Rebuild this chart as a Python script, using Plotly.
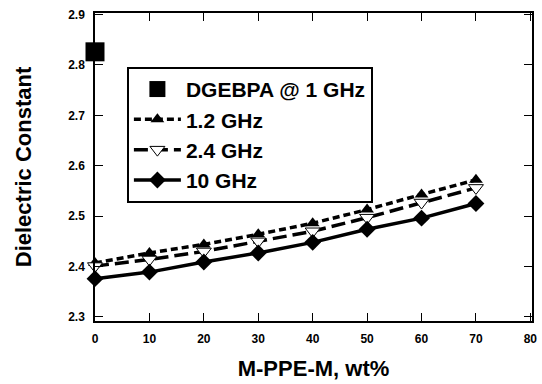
import plotly.graph_objects as go

wt = [0, 10, 20, 30, 40, 50, 60, 70]
dgebpa_x = [0]
dgebpa_y = [2.826]
ghz_1_2 = [2.407, 2.427, 2.444, 2.464, 2.486, 2.513, 2.543, 2.572]
ghz_2_4 = [2.401, 2.414, 2.430, 2.450, 2.470, 2.497, 2.527, 2.556]
ghz_10 = [2.376, 2.389, 2.409, 2.427, 2.448, 2.474, 2.496, 2.525]

x_ticks = [0, 10, 20, 30, 40, 50, 60, 70, 80]
y_ticks = [2.3, 2.4, 2.5, 2.6, 2.7, 2.8, 2.9]

FONT = "Liberation Sans, Arial, sans-serif"

fig = go.Figure()
fig.add_trace(go.Scatter(x=dgebpa_x, y=dgebpa_y, mode="markers", name="DGEBPA @ 1 GHz",
                         marker=dict(symbol="square", size=19, color="black"), cliponaxis=False))
fig.add_trace(go.Scatter(x=wt, y=ghz_1_2, mode="lines+markers", name="1.2 GHz",
                         line=dict(color="black", width=3.5, dash="7px,4px"),
                         marker=dict(symbol="triangle-up", size=12, color="black"), cliponaxis=False))
fig.add_trace(go.Scatter(x=wt, y=ghz_2_4, mode="lines+markers", name="2.4 GHz",
                         line=dict(color="black", width=3.5, dash="14px,6px"),
                         marker=dict(symbol="triangle-down", size=13, color="white",
                                     line=dict(color="black", width=1)), cliponaxis=False))
fig.add_trace(go.Scatter(x=wt, y=ghz_10, mode="lines+markers", name="10 GHz",
                         line=dict(color="black", width=3.5),
                         marker=dict(symbol="diamond", size=13, color="black"), cliponaxis=False))

axis_common = dict(showline=True, linecolor="black", linewidth=1.5, mirror="allticks",
                   ticks="inside", ticklen=8, tickwidth=1, tickcolor="black",
                   showgrid=False, zeroline=False, ticklabelstandoff=6,
                   tickfont=dict(family=FONT, size=12, color="black", weight="bold"))

fig.update_xaxes(range=[0, 80.3], tickvals=x_ticks, ticktext=[str(v) for v in x_ticks],
                 title=dict(text="M-PPE-M, wt%", font=dict(family=FONT, size=22, color="black", weight="bold"), standoff=15),
                 **axis_common)
fig.update_yaxes(range=[2.292, 2.903], tickvals=y_ticks, ticktext=[f"{v:.1f}" for v in y_ticks],
                 title=dict(text="Dielectric Constant", font=dict(family=FONT, size=22, color="black", weight="bold"), standoff=30),
                 **axis_common)

fig.update_layout(
    width=542, height=384,
    margin=dict(l=95, r=5, t=13, b=63),
    paper_bgcolor="white", plot_bgcolor="white",
    showlegend=True,
    legend=dict(x=0.073, y=0.825, xanchor="left", yanchor="top",
                bordercolor="black", borderwidth=2, bgcolor="white",
                font=dict(family=FONT, size=21, color="black", weight="bold"),
                itemwidth=47, tracegroupgap=0),
)

fig.write_html("out.html")
